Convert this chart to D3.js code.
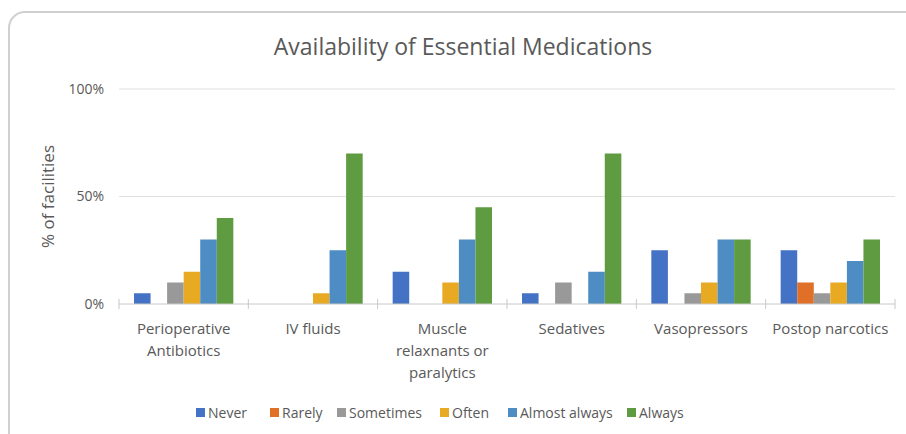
<!DOCTYPE html>
<html>
<head>
<meta charset="utf-8">
<script src="https://cdn.jsdelivr.net/npm/d3@7"></script>
<style>
  body { margin: 0; background: #fff; }
  text { font-family: "Open Sans", sans-serif; }
</style>
</head>
<body>
<div id="chart-area"></div>
<script>
// data (percent of facilities)
var categories = ["Perioperative Antibiotics", "IV fluids", "Muscle relaxnants or paralytics",
                  "Sedatives", "Vasopressors", "Postop narcotics"];
var labelLines = [["Perioperative", "Antibiotics"], ["IV fluids"], ["Muscle", "relaxnants or", "paralytics"],
                  ["Sedatives"], ["Vasopressors"], ["Postop narcotics"]];
var series = ["Never", "Rarely", "Sometimes", "Often", "Almost always", "Always"];
var never        = [5, 0, 15, 5, 25, 25];
var rarely       = [0, 0, 0, 0, 0, 10];
var sometimes    = [10, 0, 0, 10, 5, 5];
var often        = [15, 5, 10, 0, 10, 10];
var almostAlways = [30, 25, 30, 15, 30, 20];
var always       = [40, 70, 45, 70, 30, 30];
var yTicks = [0, 50, 100];

var colors = ["#4472C4", "#E07028", "#999999", "#E8AA22", "#4E8CC4", "#5F9B40"];
var values = [never, rarely, sometimes, often, almostAlways, always];

var width = 906, height = 434;
var margin = {top: 89, right: 11, bottom: 130, left: 119};
var innerW = width - margin.left - margin.right;
var innerH = height - margin.top - margin.bottom;

var svg = d3.select("#chart-area")
  .append("svg")
  .attr("width", width)
  .attr("height", height);

// chart frame
svg.append("rect")
  .attr("x", 9).attr("y", 12)
  .attr("width", 930).attr("height", 450)
  .attr("rx", 16)
  .attr("fill", "#fff")
  .attr("stroke", "#d0d0d0")
  .attr("stroke-width", 2);

svg.append("text")
  .attr("x", 463).attr("y", 55)
  .attr("text-anchor", "middle")
  .attr("font-size", "23px")
  .attr("fill", "#595959")
  .text("Availability of Essential Medications");

var g = svg.append("g")
  .attr("transform", "translate(" + margin.left + "," + margin.top + ")");

var x0 = d3.scaleBand().domain(categories).range([0, innerW]).paddingInner(0).paddingOuter(0);
var x1 = d3.scaleBand().domain(series).range([15, x0.bandwidth() - 15]);
var y = d3.scaleLinear().domain([0, 100]).range([innerH, 0]);

// gridlines
g.selectAll(".grid").data(yTicks.filter(function(d) { return d > 0; }))
  .enter().append("line")
  .attr("x1", 0).attr("x2", innerW)
  .attr("y1", function(d) { return y(d); })
  .attr("y2", function(d) { return y(d); })
  .attr("stroke", "#e0e0e0").attr("stroke-width", 1);

// y axis labels
var yAxis = d3.axisLeft(y).tickValues(yTicks).tickSize(0).tickPadding(15)
  .tickFormat(function(d) { return d + "%"; });
var yAxisGroup = g.append("g").call(yAxis);
yAxisGroup.select(".domain").remove();
yAxisGroup.selectAll("text")
  .attr("font-size", "14px")
  .attr("fill", "#595959")
  .style("font-family", "Open Sans, sans-serif");

g.append("text")
  .attr("transform", "rotate(-90)")
  .attr("x", -y(50)).attr("y", -65)
  .attr("text-anchor", "middle")
  .attr("font-size", "17px")
  .attr("fill", "#595959")
  .text("% of facilities");

// bars
var groups = g.selectAll(".cat").data(categories)
  .enter().append("g")
  .attr("transform", function(d) { return "translate(" + x0(d) + ",0)"; });

groups.selectAll("rect")
  .data(function(d, i) { return series.map(function(s, j) { return {s: s, v: values[j][i], c: colors[j]}; }); })
  .enter().append("rect")
  .attr("x", function(d) { return x1(d.s); })
  .attr("width", x1.bandwidth())
  .attr("y", function(d) { return y(d.v); })
  .attr("height", function(d) { return innerH - y(d.v); })
  .attr("fill", function(d) { return d.c; });

// x axis with tick marks at category boundaries
g.append("line")
  .attr("x1", 0).attr("x2", innerW)
  .attr("y1", innerH).attr("y2", innerH)
  .attr("stroke", "#c8c8c8").attr("stroke-width", 1);
var bounds = categories.map(function(c) { return x0(c); }).concat([innerW]);
g.selectAll(".tk").data(bounds).enter().append("line")
  .attr("x1", function(d) { return d; }).attr("x2", function(d) { return d; })
  .attr("y1", innerH - 5).attr("y2", innerH + 5)
  .attr("stroke", "#c8c8c8");

var xl = g.selectAll(".xl").data(categories).enter().append("text")
  .attr("text-anchor", "middle")
  .attr("font-size", "15px")
  .attr("fill", "#595959")
  .attr("x", function(d) { return x0(d) + x0.bandwidth() / 2; })
  .attr("y", innerH + 30);
xl.selectAll("tspan")
  .data(function(d, i) { return labelLines[i]; })
  .enter().append("tspan")
  .attr("x", function() { return d3.select(this.parentNode).attr("x"); })
  .attr("dy", function(d, i) { return i === 0 ? 0 : 22; })
  .text(function(d) { return d; });

// legend
var legendX = [196, 270, 337, 440, 508, 627];
var legend = svg.selectAll(".lg").data(series).enter().append("g")
  .attr("transform", function(d, i) { return "translate(" + legendX[i] + ",408)"; });
legend.append("rect")
  .attr("width", 9).attr("height", 9)
  .attr("fill", function(d, i) { return colors[i]; });
legend.append("text")
  .attr("x", 12).attr("y", 10)
  .attr("font-size", "14px")
  .attr("fill", "#595959")
  .text(function(d) { return d; });
</script>
</body>
</html>
